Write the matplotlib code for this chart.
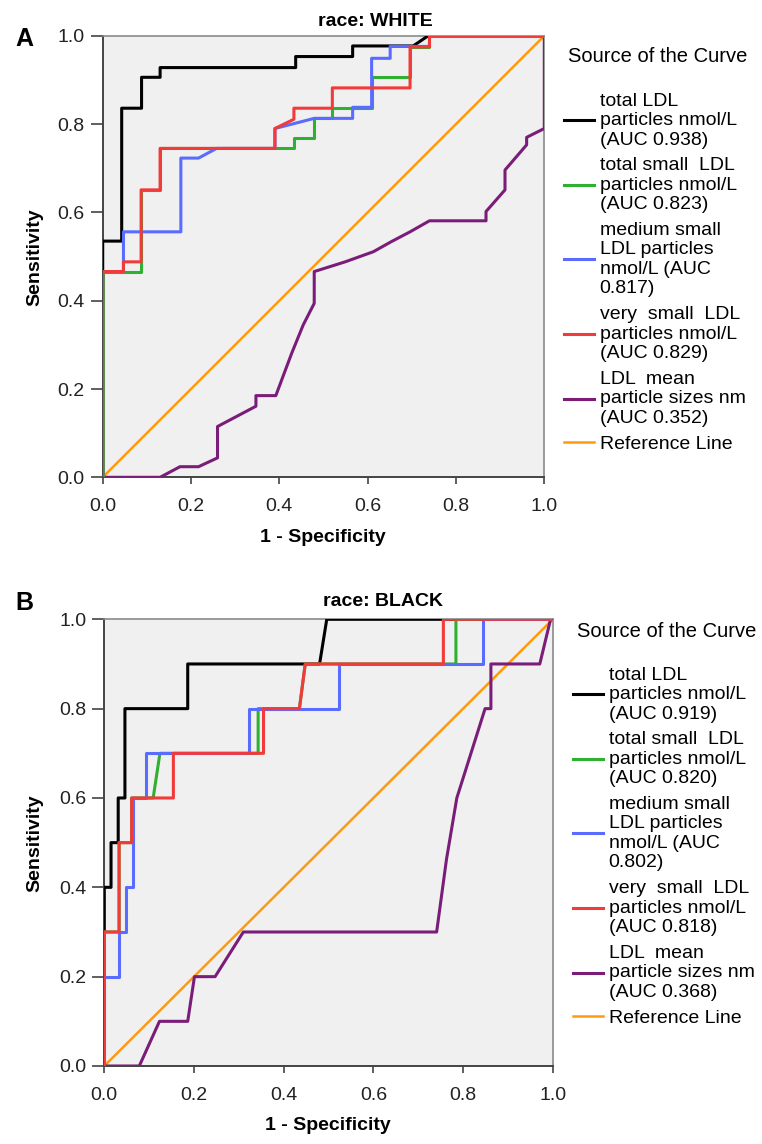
import matplotlib
matplotlib.use('Agg')
import matplotlib.pyplot as plt

plt.rcParams['font.family'] = ['Liberation Sans', 'DejaVu Sans']

# ---- panel A (race: WHITE) ----
black_a_x = [0, 0, 0.043, 0.043, 0.088, 0.088, 0.130, 0.130, 0.437, 0.437, 0.566, 0.566, 0.703, 0.737, 1.0]
black_a_y = [0, 0.535, 0.535, 0.836, 0.836, 0.906, 0.906, 0.928, 0.928, 0.953, 0.953, 0.977, 0.977, 1.0, 1.0]
green_a_x = [0, 0, 0.087, 0.087, 0.130, 0.130, 0.433, 0.433, 0.479, 0.479, 0.520, 0.520, 0.609, 0.609, 0.696, 0.696, 0.740, 0.740, 1.0]
green_a_y = [0, 0.466, 0.466, 0.651, 0.651, 0.745, 0.745, 0.768, 0.768, 0.813, 0.813, 0.836, 0.836, 0.906, 0.906, 0.975, 0.975, 1.0, 1.0]
blue_a_x = [0, 0, 0.047, 0.047, 0.177, 0.177, 0.217, 0.258, 0.390, 0.390, 0.479, 0.566, 0.566, 0.609, 0.609, 0.651, 0.651, 0.740, 0.740, 1.0]
blue_a_y = [0, 0.466, 0.466, 0.556, 0.556, 0.723, 0.723, 0.745, 0.745, 0.790, 0.813, 0.813, 0.838, 0.838, 0.949, 0.949, 0.976, 0.976, 1.0, 1.0]
red_a_x = [0, 0, 0.047, 0.047, 0.087, 0.087, 0.130, 0.130, 0.390, 0.390, 0.433, 0.433, 0.520, 0.520, 0.696, 0.696, 0.740, 0.740, 1.0]
red_a_y = [0, 0.466, 0.466, 0.488, 0.488, 0.651, 0.651, 0.745, 0.745, 0.790, 0.811, 0.836, 0.836, 0.882, 0.882, 0.975, 0.975, 1.0, 1.0]
purple_a_x = [0, 0.130, 0.175, 0.217, 0.260, 0.260, 0.347, 0.347, 0.392, 0.428, 0.454, 0.479, 0.479, 0.549, 0.613,
              0.654, 0.696, 0.740, 0.868, 0.868, 0.911, 0.911, 0.960, 0.960, 1.0, 1.0]
purple_a_y = [0, 0, 0.024, 0.024, 0.044, 0.115, 0.161, 0.185, 0.185, 0.281, 0.345, 0.394, 0.466, 0.488, 0.511,
              0.534, 0.556, 0.581, 0.581, 0.602, 0.651, 0.696, 0.753, 0.770, 0.790, 1.0]
auc_a = ['0.938', '0.823', '0.817', '0.829', '0.352']

# ---- panel B (race: BLACK) ----
black_b_x = [0, 0, 0.015, 0.015, 0.031, 0.031, 0.046, 0.046, 0.186, 0.186, 0.480, 0.496, 1.0]
black_b_y = [0, 0.4, 0.4, 0.5, 0.5, 0.6, 0.6, 0.8, 0.8, 0.9, 0.9, 1.0, 1.0]
green_b_x = [0, 0, 0.033, 0.033, 0.061, 0.061, 0.109, 0.124, 0.343, 0.343, 0.435, 0.448, 0.784, 0.784, 1.0]
green_b_y = [0, 0.3, 0.3, 0.5, 0.5, 0.6, 0.6, 0.7, 0.7, 0.8, 0.8, 0.9, 0.9, 1.0, 1.0]
blue_b_x = [0, 0, 0.033, 0.033, 0.048, 0.048, 0.063, 0.063, 0.094, 0.094, 0.323, 0.323, 0.524, 0.524, 0.844, 0.844, 1.0]
blue_b_y = [0, 0.2, 0.2, 0.3, 0.3, 0.4, 0.4, 0.6, 0.6, 0.7, 0.7, 0.8, 0.8, 0.9, 0.9, 1.0, 1.0]
red_b_x = [0, 0, 0.033, 0.033, 0.061, 0.061, 0.154, 0.154, 0.355, 0.355, 0.435, 0.448, 0.756, 0.756, 1.0]
red_b_y = [0, 0.3, 0.3, 0.5, 0.5, 0.6, 0.6, 0.7, 0.7, 0.8, 0.8, 0.9, 0.9, 1.0, 1.0]
purple_b_x = [0, 0.078, 0.123, 0.186, 0.201, 0.247, 0.310, 0.741, 0.763, 0.786, 0.849, 0.862, 0.862, 0.971, 0.995, 1.0]
purple_b_y = [0, 0, 0.1, 0.1, 0.2, 0.2, 0.3, 0.3, 0.463, 0.6, 0.8, 0.8, 0.9, 0.9, 1.0, 1.0]
auc_b = ['0.919', '0.820', '0.802', '0.818', '0.368']

ticks = [0.0, 0.2, 0.4, 0.6, 0.8, 1.0]
tick_labels = ['0.0', '0.2', '0.4', '0.6', '0.8', '1.0']
colors = {'black': '#000000', 'green': '#30b030', 'blue': '#5a6cff',
          'red': '#f23a3a', 'purple': '#7a1d78', 'orange': '#ff9a10'}

W, H = 762, 1144
fig = plt.figure(figsize=(W / 100, H / 100), dpi=100)


def px(x0, y0, x1, y1):
    # pixel box -> figure fraction
    return [x0 / W, 1 - y1 / H, (x1 - x0) / W, (y1 - y0) / H]


def panel(box, curves, auc, title, title_xy, letter_xy, letter, xlab_xy, ylab_xy, leg_xy, legtitle_xy):
    ax = fig.add_axes(px(*box))
    ax.set_facecolor('#f0f0f0')
    (bx, by), (gx, gy), (blx, bly), (rx, ry), (ppx, ppy) = curves
    labels = ['total LDL\nparticles nmol/L\n(AUC %s)' % auc[0],
              'total small  LDL\nparticles nmol/L\n(AUC %s)' % auc[1],
              'medium small\nLDL particles\nnmol/L (AUC\n%s)' % auc[2],
              'very  small  LDL\nparticles nmol/L\n(AUC %s)' % auc[3],
              'LDL  mean\nparticle sizes nm\n(AUC %s)' % auc[4],
              'Reference Line']
    lw = 2.2
    l_or, = ax.plot([0, 1], [0, 1], color=colors['orange'], lw=1.8, zorder=2)
    l_pu, = ax.plot(ppx, ppy, color=colors['purple'], lw=lw, zorder=3)
    l_bk, = ax.plot(bx, by, color=colors['black'], lw=lw, zorder=4)
    l_gr, = ax.plot(gx, gy, color=colors['green'], lw=lw, zorder=5)
    l_bl, = ax.plot(blx, bly, color=colors['blue'], lw=lw, zorder=6)
    l_rd, = ax.plot(rx, ry, color=colors['red'], lw=lw, zorder=7)
    ax.set_xlim(0, 1)
    ax.set_ylim(0, 1)
    ax.set_xticks(ticks)
    ax.set_xticklabels(tick_labels)
    ax.set_yticks(ticks)
    ax.set_yticklabels(tick_labels)
    ax.tick_params(labelsize=14, width=1.2, color='#444444', labelcolor='#222222')
    ax.tick_params(axis='x', length=5, pad=10)
    ax.tick_params(axis='y', length=9, pad=4)
    for s in ['left', 'bottom']:
        ax.spines[s].set_color('#444444')
        ax.spines[s].set_linewidth(1.4)
    for s in ['top', 'right']:
        ax.spines[s].set_color('#8a8a8a')
        ax.spines[s].set_linewidth(1.2)

    fig.text(title_xy[0] / W, 1 - title_xy[1] / H, title, fontsize=14, fontweight='bold',
             ha='center', va='center')
    fig.text(letter_xy[0] / W, 1 - letter_xy[1] / H, letter, fontsize=18, fontweight='bold',
             ha='center', va='center')
    fig.text(xlab_xy[0] / W, 1 - xlab_xy[1] / H, '1 - Specificity', fontsize=14, fontweight='bold',
             ha='center', va='center')
    fig.text(ylab_xy[0] / W, 1 - ylab_xy[1] / H, 'Sensitivity', fontsize=14, fontweight='bold',
             ha='center', va='center', rotation=90)
    fig.text(legtitle_xy[0] / W, 1 - legtitle_xy[1] / H, 'Source of the Curve', fontsize=14.5,
             ha='center', va='center')

    leg = fig.legend([l_bk, l_gr, l_bl, l_rd, l_pu, l_or], labels,
                     loc='upper left', bbox_to_anchor=(leg_xy[0] / W, 1 - leg_xy[1] / H),
                     frameon=False, fontsize=14,
                     handlelength=1.55, handletextpad=0.3, labelspacing=0.45, borderpad=0.2)
    for t in leg.get_texts():
        t.set_linespacing(1.19)
    return ax


panel((102.7, 35.8, 544.3, 477.3),
      [(black_a_x, black_a_y), (green_a_x, green_a_y), (blue_a_x, blue_a_y),
       (red_a_x, red_a_y), (purple_a_x, purple_a_y)],
      auc_a, 'race: WHITE', (375, 22), (24, 39), 'A', (323, 537), (35, 257), (550, 79), (658, 57))

panel((104.3, 619.3, 552.8, 1066),
      [(black_b_x, black_b_y), (green_b_x, green_b_y), (blue_b_x, blue_b_y),
       (red_b_x, red_b_y), (purple_b_x, purple_b_y)],
      auc_b, 'race: BLACK', (383, 602), (24, 603), 'B', (328, 1126), (35, 843), (559, 653), (667, 632))

fig.savefig('out.png', dpi=100)
